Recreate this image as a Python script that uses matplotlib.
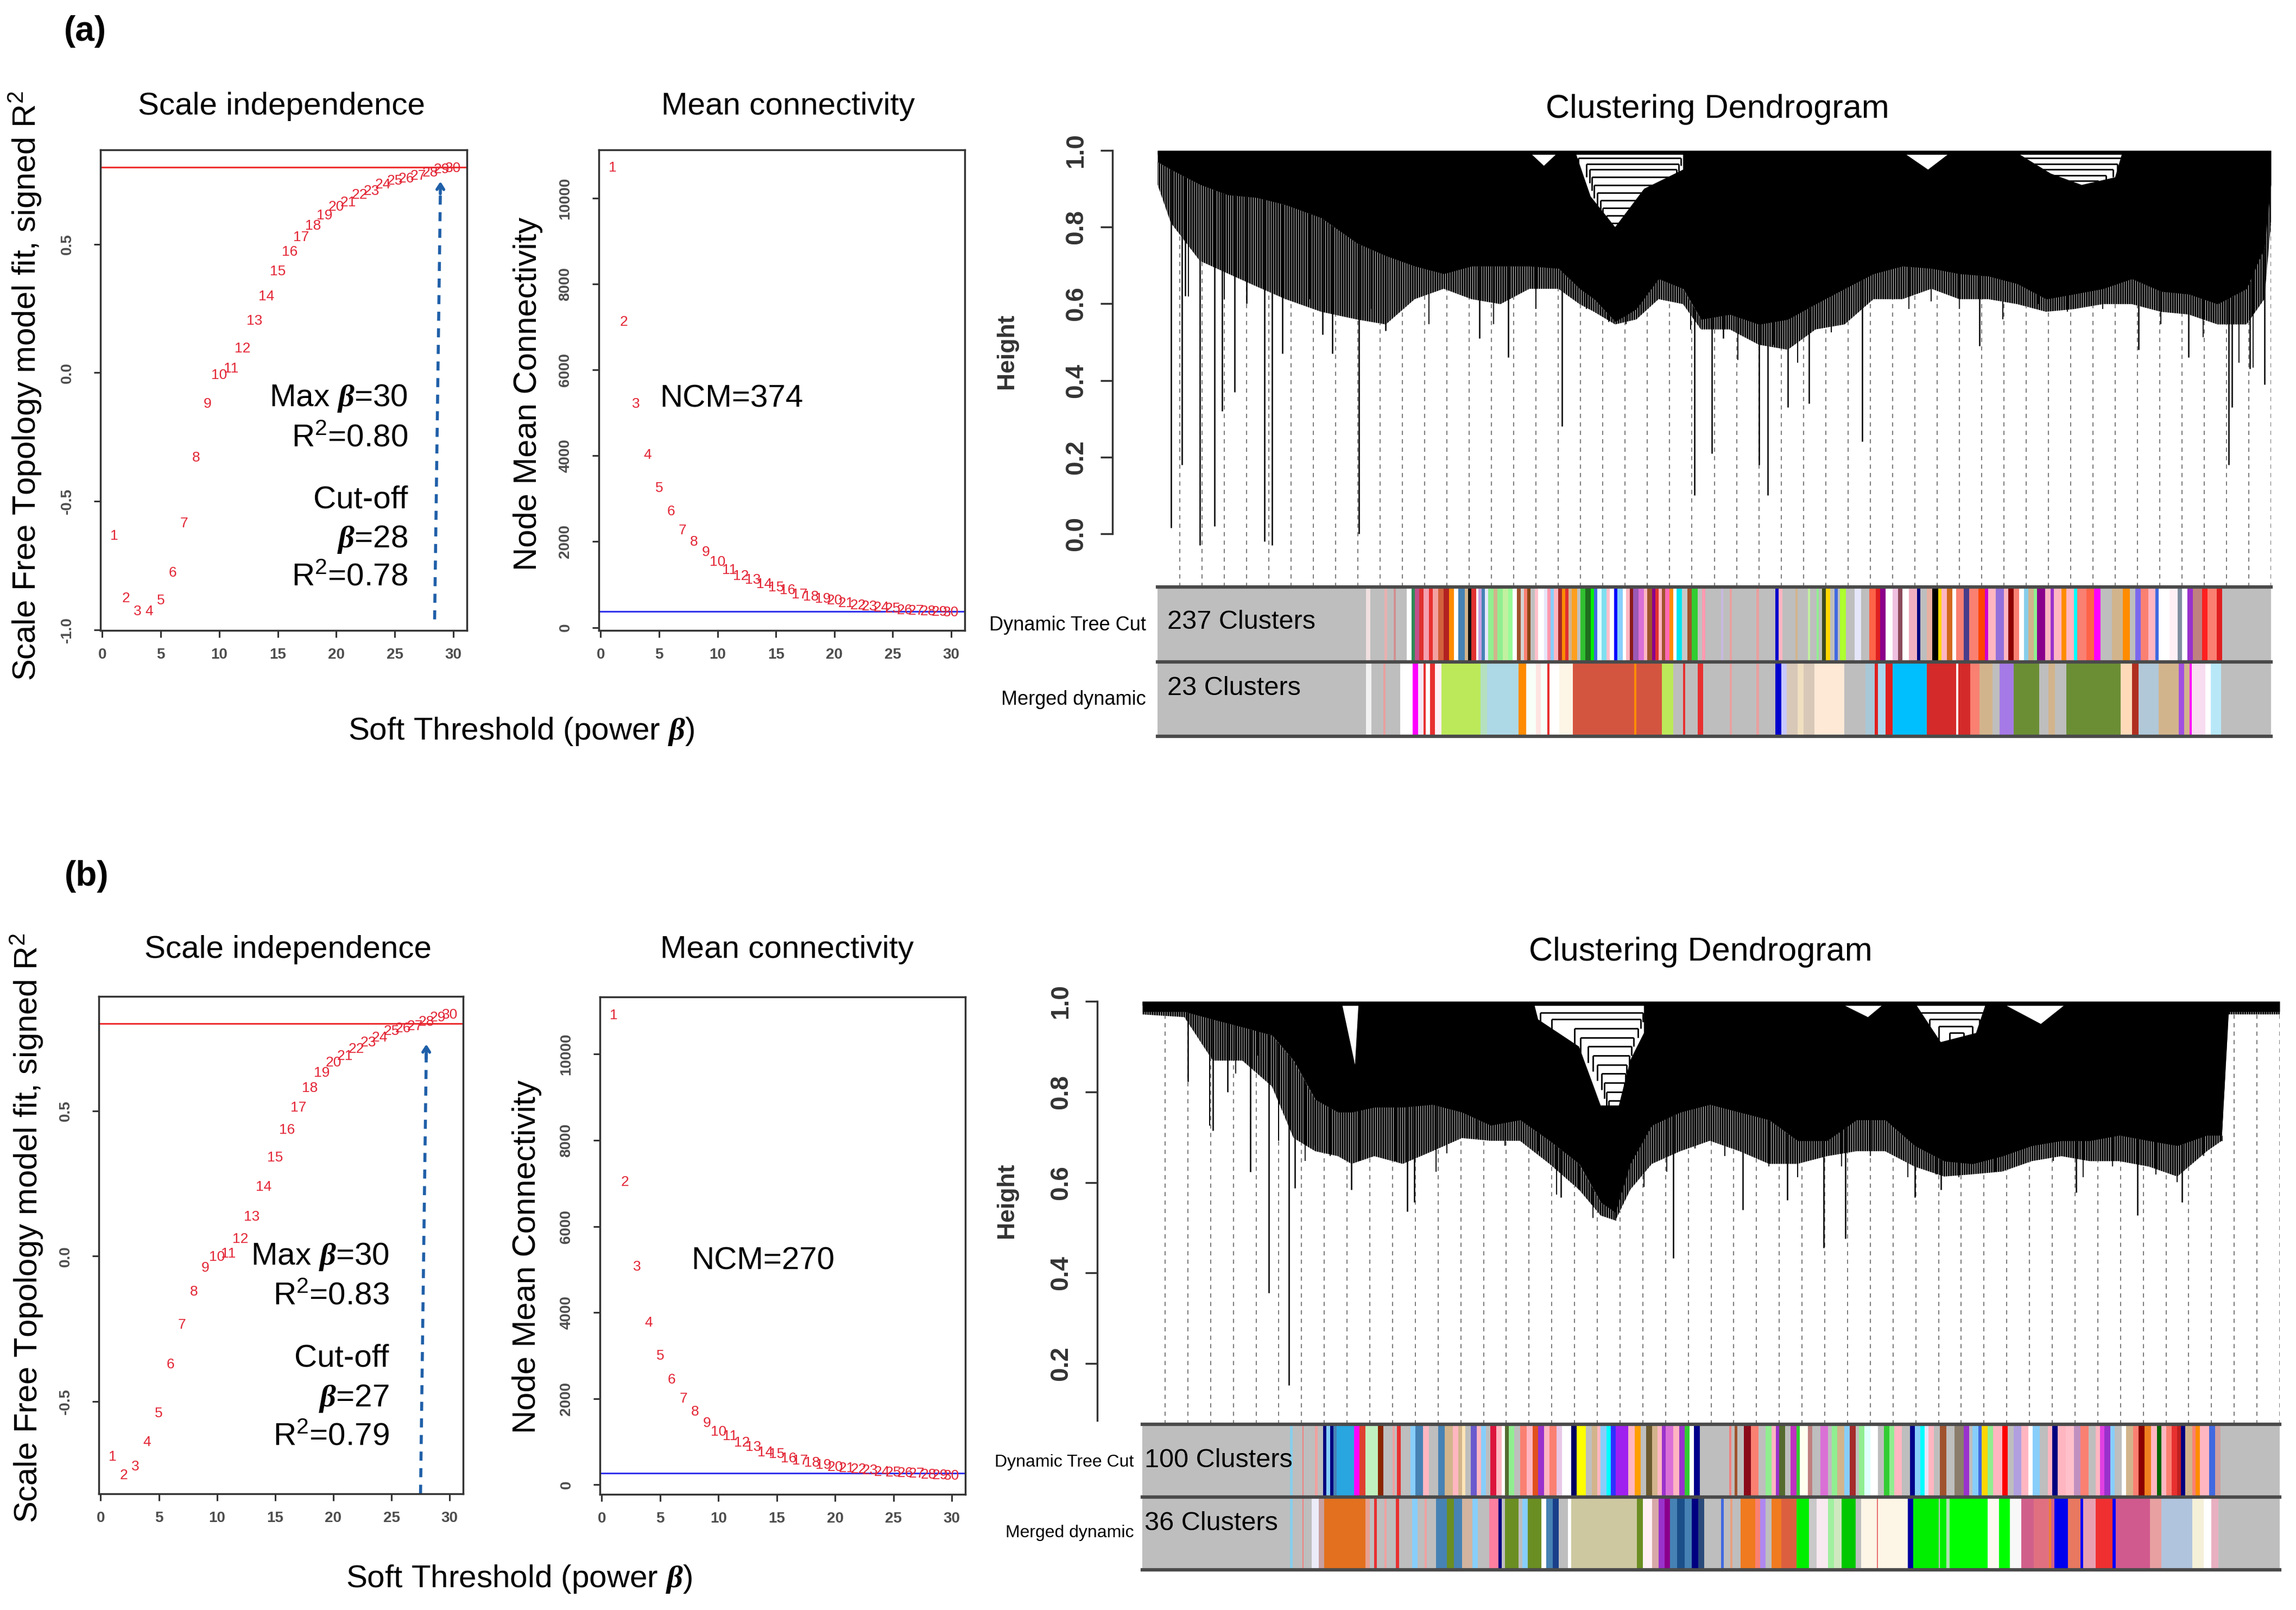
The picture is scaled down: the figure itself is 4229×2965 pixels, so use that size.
import numpy as np
import matplotlib.pyplot as plt
from matplotlib.patches import Polygon
from matplotlib.ticker import FormatStrFormatter

plt.rcParams['font.family'] = ['Liberation Sans', 'DejaVu Sans']
plt.rcParams['axes.unicode_minus'] = False
plt.rcParams['mathtext.fontset'] = 'custom'
plt.rcParams['mathtext.rm'] = 'Liberation Sans'
plt.rcParams['mathtext.it'] = 'Liberation Serif:italic:bold'
plt.rcParams['mathtext.default'] = 'regular'
plt.rcParams['hatch.color'] = 'black'
plt.rcParams['hatch.linewidth'] = 2.4

W, H = 4229, 2965
RED = '#e32636'
BLUE = '#1f5fa8'
GREY = '#bebebe'

powers = list(range(1, 31))

# ---- soft threshold data ----
r2_a = [-0.635, -0.879, -0.930, -0.930, -0.886, -0.778, -0.586, -0.331, -0.121, -0.010,
        0.016, 0.093, 0.201, 0.296, 0.393, 0.469, 0.527, 0.571, 0.612, 0.645,
        0.663, 0.692, 0.707, 0.731, 0.746, 0.754, 0.766, 0.778, 0.790, 0.796]
k_a = [10710, 7116, 5208, 4020, 3239, 2706, 2263, 1996, 1748, 1526,
       1331, 1198, 1109, 1003, 932, 861, 772, 710, 665, 621,
       559, 515, 488, 461, 435, 405, 390, 375, 360, 350]
ncm_a = 374

r2_b = [-0.690, -0.754, -0.724, -0.639, -0.541, -0.373, -0.237, -0.122, -0.041, -0.003,
        0.008, 0.059, 0.136, 0.237, 0.339, 0.434, 0.510, 0.578, 0.629, 0.666,
        0.688, 0.712, 0.734, 0.751, 0.773, 0.782, 0.790, 0.805, 0.820, 0.830]
k_b = [10901, 7032, 5066, 3756, 2989, 2436, 1996, 1689, 1433, 1228,
       1126, 972, 870, 745, 705, 614, 563, 512, 461, 409,
       379, 355, 330, 300, 280, 265, 250, 235, 222, 210]
ncm_b = 270

# ---- dendrogram (a): leaf order in per-mille; solid floor and strand tips ----
treeA_x = [0, 12, 38, 63, 89, 115, 147, 179, 205, 231, 257, 282, 308, 334, 360, 379, 392,
           411, 430, 450, 472, 488, 514, 540, 566, 591, 617, 643, 669, 695, 720, 746, 772,
           798, 823, 849, 875, 901, 926, 952, 978, 994, 1000]
denseA_h = [0.970, 0.950, 0.911, 0.884, 0.877, 0.858, 0.824, 0.758, 0.725, 0.698, 0.678,
            0.698, 0.698, 0.698, 0.692, 0.639, 0.612, 0.553, 0.586, 0.665, 0.639, 0.559,
            0.572, 0.546, 0.559, 0.599, 0.639, 0.678, 0.698, 0.692, 0.678, 0.672, 0.652,
            0.612, 0.625, 0.639, 0.665, 0.632, 0.625, 0.599, 0.639, 0.745, 0.911]
hairA_h = [0.911, 0.811, 0.712, 0.679, 0.645, 0.612, 0.579, 0.559, 0.546, 0.612, 0.639,
           0.612, 0.599, 0.639, 0.639, 0.599, 0.579, 0.546, 0.559, 0.612, 0.599, 0.533,
           0.533, 0.493, 0.480, 0.533, 0.546, 0.612, 0.612, 0.639, 0.612, 0.612, 0.599,
           0.579, 0.586, 0.599, 0.599, 0.579, 0.572, 0.546, 0.546, 0.612, 0.811]
spikeA_x = [12, 22, 25, 38, 51, 58, 69, 80, 96, 103, 112, 148, 157, 181, 205, 289, 315,
            363, 482, 498, 508, 540, 548, 566, 585, 633, 738, 881, 926, 962, 965, 981, 994]
spikeA_h = [0.015, 0.18, 0.62, -0.03, 0.02, 0.32, 0.37, 0.60, -0.02, -0.03, 0.47, 0.52,
            0.47, 0.0, 0.53, 0.51, 0.46, 0.28, 0.10, 0.21, 0.51, 0.18, 0.10, 0.33, 0.34,
            0.24, 0.49, 0.48, 0.46, 0.18, 0.33, 0.43, 0.39]
strandA_x = [28, 60, 115, 137, 170, 192, 221, 244, 260, 302, 340, 385, 405, 421, 479, 521,
             553, 575, 605, 617, 675, 695, 720, 759, 791, 817, 849, 901, 939, 971, 984]
strandA_h = [0.619, 0.612, 0.612, 0.612, 0.626, 0.586, 0.612, 0.546, 0.645, 0.546, 0.586,
             0.586, 0.553, 0.546, 0.533, 0.453, 0.493, 0.446, 0.526, 0.546, 0.586, 0.606,
             0.586, 0.559, 0.599, 0.579, 0.586, 0.546, 0.513, 0.446, 0.433]
gapA_x = [[336, 358, 347], [376, 472, 472, 437, 411, 389], [672, 710, 692],
          [774, 866, 860, 830, 802]]
gapA_h = [[0.99, 0.99, 0.96], [0.99, 0.99, 0.95, 0.90, 0.80, 0.88], [0.99, 0.99, 0.95],
          [0.99, 0.99, 0.93, 0.91, 0.94]]
branchA_x0 = [378, 385, 388, 390, 392, 395, 398, 400, 403, 405, 776, 784, 792, 800, 808]
branchA_x1 = [470, 468, 466, 462, 458, 455, 450, 445, 440, 432, 866, 862, 858, 852, 845]
branchA_h = [0.98, 0.965, 0.95, 0.93, 0.91, 0.89, 0.87, 0.85, 0.83, 0.81,
             0.98, 0.965, 0.95, 0.935, 0.92]

# ---- dendrogram (b) ----
treeB_x = [0, 37, 62, 88, 114, 133, 152, 172, 184, 204, 229, 255, 281, 306, 332, 358,
           384, 403, 416, 429, 448, 473, 499, 525, 551, 576, 602, 628, 653, 679, 705,
           730, 756, 782, 808, 833, 859, 885, 910, 936, 949, 955, 1000]
denseB_h = [0.977, 0.977, 0.960, 0.943, 0.925, 0.869, 0.783, 0.755, 0.755, 0.766, 0.766,
            0.772, 0.755, 0.726, 0.738, 0.692, 0.641, 0.556, 0.533, 0.641, 0.726, 0.755,
            0.772, 0.755, 0.738, 0.692, 0.692, 0.738, 0.738, 0.681, 0.647, 0.641, 0.658,
            0.681, 0.692, 0.692, 0.704, 0.692, 0.681, 0.704, 0.704, 0.977, 0.977]
hairB_h = [0.971, 0.965, 0.869, 0.869, 0.812, 0.698, 0.669, 0.658, 0.641, 0.658, 0.641,
           0.669, 0.698, 0.692, 0.692, 0.641, 0.584, 0.527, 0.516, 0.584, 0.641, 0.669,
           0.692, 0.669, 0.641, 0.641, 0.658, 0.669, 0.669, 0.635, 0.613, 0.618, 0.624,
           0.647, 0.658, 0.647, 0.647, 0.635, 0.613, 0.669, 0.692, 0.971, 0.971]
spikeB_x = [40, 62, 75, 95, 111, 129, 134, 184, 233, 239, 368, 467, 528, 567, 599, 618,
            679, 702, 821, 875, 914, 949]
spikeB_h = [0.823, 0.715, 0.80, 0.624, 0.356, 0.152, 0.587, 0.584, 0.536, 0.556, 0.567,
            0.433, 0.539, 0.561, 0.456, 0.476, 0.567, 0.584, 0.578, 0.527, 0.556, 0.692]
strandB_x = [59, 82, 101, 120, 143, 152, 165, 191, 210, 223, 258, 268, 294, 319, 348, 364,
             384, 396, 416, 441, 461, 486, 512, 551, 576, 615, 640, 673, 698, 718, 750,
             769, 801, 827, 853, 891, 910, 933]
strandB_h = [0.726, 0.840, 0.880, 0.692, 0.647, 0.681, 0.658, 0.647, 0.669, 0.647, 0.624,
             0.664, 0.698, 0.681, 0.669, 0.573, 0.584, 0.522, 0.516, 0.590, 0.624, 0.675,
             0.658, 0.635, 0.612, 0.635, 0.658, 0.612, 0.618, 0.612, 0.624, 0.641, 0.647,
             0.612, 0.635, 0.618, 0.601, 0.658]
gapB_x = [[176, 190, 187], [345, 441, 441, 429, 419, 403, 384, 348], [618, 650, 638],
          [681, 741, 733, 702], [760, 810, 790]]
gapB_h = [[0.99, 0.99, 0.86], [0.99, 0.99, 0.93, 0.87, 0.77, 0.77, 0.90, 0.96],
          [0.99, 0.99, 0.965], [0.99, 0.99, 0.93, 0.91], [0.99, 0.99, 0.95]]
branchB_x0 = [350, 360, 380, 385, 392, 396, 400, 404, 406, 408, 410, 684, 692, 700, 710]
branchB_x1 = [440, 438, 436, 432, 430, 428, 426, 425, 424, 424, 422, 740, 736, 730, 722]
branchB_h = [0.975, 0.96, 0.94, 0.92, 0.90, 0.88, 0.86, 0.84, 0.82, 0.80, 0.78,
             0.975, 0.96, 0.945, 0.93]

# ---- colour bands: (start per-mille, colour) ----
cutA = [(0, GREY), (187, '#f0e0e0'), (191, GREY), (204, '#e8b0b0'), (206, GREY),
        (212, '#d09090'), (214, GREY), (224, '#ffffff'), (228, '#2e8b57'), (231, '#c0508a'),
        (235, '#e03030'), (239, '#f4a0b0'), (244, '#e83030'), (247, '#f4a0a0'),
        (252, '#d2603c'), (257, '#b22222'), (262, '#ff8c00'), (266, '#ffffff'),
        (270, '#4682b4'), (276, '#d2b48c'), (279, '#111111'), (282, '#e03030'),
        (286, '#ffffff'), (288, '#c8a0e0'), (291, '#4682b4'), (294, '#e6e6fa'),
        (297, '#90ee90'), (302, '#d2b48c'), (305, '#90ee90'), (310, '#c1f0a0'),
        (315, '#98fb98'), (319, '#ffffff'), (323, '#a0522d'), (326, '#d3d3d3'),
        (329, '#fa8072'), (332, '#8b4513'), (335, '#c0c0c0'), (339, '#ffc0cb'),
        (342, '#ffffff'), (347, '#e6e6fa'), (350, '#ff9ab0'), (353, '#87cefa'),
        (356, '#ffb6c1'), (360, '#a52a2a'), (363, '#ff8c00'), (366, '#e03030'),
        (369, '#d2b48c'), (372, '#ff9f20'), (377, '#c0c0c0'), (380, '#30c030'),
        (384, '#1e6e1e'), (389, '#00ee00'), (392, '#4169e1'), (395, '#e0ffff'),
        (399, '#7fdfef'), (403, '#ffc0cb'), (406, '#ffffff'), (410, '#0000ff'),
        (413, '#87cefa'), (418, '#ffffff'), (421, '#ffb6c1'), (424, '#8b1a1a'),
        (427, '#9b59b6'), (432, '#da70d6'), (437, '#ffb6c1'), (440, '#a0522d'),
        (444, '#8b008b'), (447, '#e03030'), (450, '#ffb6c1'), (453, '#a0522d'),
        (456, '#ff69b4'), (460, '#ff8c00'), (463, '#ffffff'), (466, '#00e5ee'),
        (471, '#c8c8c8'), (476, '#a0522d'), (480, '#32cd32'), (485, '#c0c0c0'),
        (489, '#ff9ab0'), (492, GREY), (506, '#c8b8e0'), (508, GREY), (514, '#e8a0a0'),
        (516, GREY), (538, '#e8a0a0'), (540, GREY), (555, '#0000cd'), (558, '#ffb6c1'),
        (561, GREY), (573, '#d2b48c'), (575, GREY), (584, '#c0f0a0'), (586, GREY),
        (592, '#90ee90'), (594, GREY), (597, '#3d4a1e'), (600, '#ffd700'), (604, GREY),
        (608, '#4169e1'), (611, GREY), (613, '#adff2f'), (618, GREY), (626, '#e6e6fa'),
        (632, GREY), (639, '#ff6347'), (645, '#e02020'), (649, '#8b008b'), (654, '#ffffff'),
        (660, '#f0c0e0'), (665, '#8b4a5a'), (669, '#ffffff'), (675, '#f0b0c0'),
        (682, '#000080'), (685, GREY), (691, '#e8b0a0'), (696, '#000000'), (701, '#ffd700'),
        (704, '#ffb6c1'), (709, '#d2691e'), (714, '#ffffff'), (717, '#fa8072'),
        (724, '#483d8b'), (729, '#fa8072'), (737, '#ff4500'), (743, '#d000d0'),
        (746, '#ffb6c1'), (753, '#9370db'), (760, '#ffb6c1'), (764, '#8b0000'),
        (769, '#fa8072'), (774, '#ffffff'), (778, '#87ceeb'), (782, '#d2b48c'),
        (787, '#90ee90'), (790, '#8b008b'), (797, '#ffb6c1'), (802, '#9932cc'),
        (805, '#ffb6c1'), (812, '#ff8c00'), (816, '#ffb6c1'), (823, '#00ffff'),
        (826, '#fa8072'), (834, '#ff6347'), (841, '#ff00ff'), (847, GREY), (857, '#d2b48c'),
        (867, '#ff8c00'), (873, GREY), (878, '#7b68ee'), (883, '#fa8072'), (890, '#ffb6c1'),
        (896, '#4169e1'), (899, '#ffffff'), (909, '#fff0f5'), (916, '#8090a0'),
        (920, '#ffffff'), (925, '#9932cc'), (930, '#c08080'), (938, '#ff2020'),
        (943, '#fa8072'), (951, '#e02020'), (956, GREY)]

mergeA = [(0, GREY), (187, '#f2f2f2'), (192, GREY), (203, '#e8a0a0'), (205, GREY),
          (218, '#ffffff'), (229, '#ff00ff'), (234, '#f5e6f5'), (239, '#e83030'),
          (241, '#ffffff'), (245, '#e83030'), (249, '#fff0f5'), (255, '#bce95a'),
          (290, '#b5e0c0'), (296, '#add8e6'), (324, '#ff8c00'), (331, '#f8fff8'),
          (340, '#ffe4e1'), (344, '#f8fff8'), (350, '#e83030'), (352, '#ffffff'),
          (361, '#fdf5e6'), (373, '#d4553f'), (428, '#ff8c00'), (430, '#d4553f'),
          (453, '#bce95a'), (463, GREY), (472, '#e83030'), (474, GREY), (485, '#e83030'),
          (490, GREY), (514, '#e8a0a0'), (516, GREY), (538, '#e8a0a0'), (540, GREY),
          (555, '#0000cd'), (560, '#c8c8ff'), (565, '#d8c8b8'), (575, '#f0e0c0'),
          (580, '#d8c8b8'), (590, '#fde9d6'), (617, GREY), (636, '#a8c8d8'),
          (644, '#e02020'), (647, '#a8d8f0'), (654, '#e02020'), (660, '#00bfff'),
          (691, '#d42a2a'), (717, '#ffffff'), (719, '#d42a2a'), (730, '#fa8072'),
          (738, '#d2b48c'), (750, GREY), (756, '#a57ae6'), (769, '#6b8e35'), (792, GREY),
          (800, '#d2b48c'), (806, GREY), (816, '#6b8e35'), (865, '#ffdab9'),
          (875, '#b03020'), (881, '#b0c8d8'), (899, '#d2b48c'), (917, '#a050e0'),
          (922, '#d2b48c'), (927, '#ff00ff'), (929, '#f8dcf0'), (941, '#ffffff'),
          (946, '#b8e8f8'), (955, GREY)]

cutB = [(0, GREY), (130, '#87ceeb'), (132, GREY), (141, '#f08080'), (142, GREY),
        (152, '#f0a0a0'), (154, GREY), (159, '#000080'), (162, '#87cefa'), (165, '#000080'),
        (168, '#4682b4'), (171, '#29a5e0'), (186, '#ff00ff'), (191, '#e04030'),
        (196, '#c0f0c0'), (207, '#8b2500'), (212, GREY), (220, '#f0a0a0'), (222, GREY),
        (224, '#e83030'), (227, GREY), (236, '#87cefa'), (240, '#4682b4'), (247, '#ffb6c1'),
        (252, GREY), (260, '#4682b4'), (266, '#d2b48c'), (273, '#ffb6c1'), (278, '#d2b48c'),
        (281, '#ffe4b5'), (284, GREY), (289, '#6a5acd'), (294, '#ffb6c1'), (298, '#87cefa'),
        (302, GREY), (306, '#dc143c'), (311, '#ffb6c1'), (316, '#ffffff'), (319, '#556b2f'),
        (322, '#90ee90'), (327, GREY), (332, '#fa8072'), (338, '#ffb6c1'), (343, '#e2501e'),
        (348, '#9932cc'), (353, '#ffb6c1'), (358, '#fa8072'), (364, '#e6c8e6'),
        (369, '#ffffff'), (377, '#000060'), (382, '#ffff00'), (390, GREY), (395, '#d2b48c'),
        (400, '#ffb6c1'), (403, '#87cefa'), (408, '#00ffff'), (412, '#3030ff'),
        (416, '#a020f0'), (427, '#ffb6c1'), (433, '#ff9f00'), (438, GREY), (443, '#6b5a2f'),
        (448, '#d2b48c'), (453, '#ffb6c1'), (457, '#9932cc'), (460, '#da70d6'),
        (467, '#ffb6c1'), (472, '#9932cc'), (477, '#32cd32'), (481, '#ffffff'),
        (485, '#00008b'), (490, GREY), (516, '#f08080'), (518, GREY), (521, '#a0522d'),
        (523, GREY), (529, '#8b0a1a'), (535, '#fa8072'), (542, GREY), (548, '#90ee90'),
        (553, '#ffb6c1'), (557, '#9932cc'), (560, '#556b2f'), (565, GREY), (570, '#c030c0'),
        (575, '#32cd32'), (578, '#fffff0'), (585, '#c08080'), (589, GREY), (596, '#da70d6'),
        (603, GREY), (606, '#90ee90'), (611, '#d2b48c'), (617, '#87cefa'), (622, '#a52a2a'),
        (627, GREY), (630, '#90ee90'), (635, '#e0ffff'), (640, '#ffffff'), (647, GREY),
        (652, '#32cd32'), (657, '#90ee90'), (661, '#ffb6c1'), (668, GREY), (675, '#00008b'),
        (679, '#87cefa'), (684, '#00ffff'), (688, '#e6e6fa'), (691, '#ffb6c1'), (696, GREY),
        (701, '#a0522d'), (707, GREY), (714, '#8b7d6b'), (722, '#9932cc'), (727, GREY),
        (730, '#87cefa'), (735, '#4169e1'), (738, '#ffd700'), (743, '#90ee90'),
        (748, '#ffb6c1'), (756, '#ff0000'), (761, GREY), (766, '#b0a0e0'), (773, '#ffb6c1'),
        (779, '#ffffff'), (783, '#87cefa'), (789, GREY), (796, '#ffb6c1'), (800, '#000080'),
        (805, '#ffb6c1'), (812, '#ffc0cb'), (819, '#c090c0'), (825, '#fa8072'), (832, GREY),
        (838, '#ffb6c1'), (842, '#e040e0'), (846, '#9932cc'), (851, '#87cefa'), (855, GREY),
        (861, '#ffffff'), (865, '#d2b48c'), (871, '#fa8072'), (876, '#8b0000'),
        (881, '#f0801e'), (887, '#ffb6c1'), (892, '#006400'), (896, '#ffb6c1'),
        (900, '#fa8072'), (905, '#e83030'), (910, '#c02020'), (913, '#000080'),
        (917, '#d2b48c'), (923, '#fa8072'), (926, '#ff8c00'), (930, '#ffb6c1'),
        (938, '#4169e1'), (943, '#d0a0a0'), (948, GREY)]

mergeB = [(0, GREY), (130, '#87ceeb'), (132, GREY), (141, '#f08080'), (142, GREY),
          (149, '#ecebf8'), (155, '#c8a0a0'), (160, '#e2701e'), (196, '#e8a090'),
          (200, GREY), (204, '#e83030'), (206, GREY), (213, '#f0a0a0'), (215, GREY),
          (223, '#e83030'), (226, GREY), (237, '#87cefa'), (242, GREY), (248, '#f0a0a0'),
          (250, GREY), (258, '#4682b4'), (268, '#6b8e23'), (274, '#4682b4'),
          (281, '#d2b4a0'), (290, '#87cefa'), (295, GREY), (305, '#ff7fa0'),
          (313, '#000080'), (316, GREY), (319, '#6b8e23'), (331, GREY), (334, '#87cefa'),
          (339, '#6b8e23'), (351, '#ffffff'), (355, '#4682b4'), (361, '#1a3f8a'),
          (366, GREY), (374, '#ffffff'), (377, '#cdc8a0'), (435, '#6b8e23'),
          (440, '#fff0f5'), (448, '#d8a8a8'), (454, '#9932cc'), (459, '#8b008b'),
          (464, '#4682b4'), (470, '#1a4f8a'), (477, '#4682b4'), (483, '#000080'),
          (489, '#2a4a7a'), (494, GREY), (509, '#4169e1'), (511, GREY), (517, '#e8a080'),
          (519, GREY), (526, '#f07a20'), (539, '#fa8072'), (543, '#b088f0'), (548, GREY),
          (553, '#f07a20'), (562, '#dc6040'), (575, '#00ee00'), (586, '#c8c8c8'),
          (593, '#f8e8f0'), (603, '#a0f0a0'), (608, '#d0e8c0'), (615, '#00c800'),
          (627, GREY), (632, '#fdf5e6'), (646, '#e87070'), (647, '#fdf5e6'),
          (673, '#0000a0'), (678, '#00ee00'), (700, '#c0c0c0'), (701, '#00ee00'),
          (707, '#b0e0b0'), (710, '#00ff00'), (743, '#fdf8f0'), (753, '#00ff00'),
          (763, '#f8f8f8'), (773, '#d0608a'), (784, '#e07080'), (797, '#f08030'),
          (799, '#d0608a'), (802, '#0000ee'), (814, '#e87860'), (825, '#0000ff'),
          (827, '#e8a0b0'), (838, '#f03030'), (853, '#0000ff'), (856, '#d05a8e'),
          (886, '#e8a0a0'), (896, '#b0c4de'), (923, '#f5f0d8'), (933, '#ffffff'),
          (940, '#e8b0c0'), (946, GREY)]


def px_axes(fig, x0, y0, x1, y1):
    return fig.add_axes([x0 / W, 1 - y1 / H, (x1 - x0) / W, (y1 - y0) / H])


def ftext(fig, x, y, s, **kw):
    fig.text(x / W, 1 - y / H, s, **kw)


def frame(ax, xticks, yticks, yfmt):
    for s in ax.spines.values():
        s.set_color('#333333')
        s.set_linewidth(2.5)
    ax.set_xticks(xticks)
    ax.set_yticks(yticks)
    ax.yaxis.set_major_formatter(FormatStrFormatter(yfmt))
    ax.tick_params(direction='out', length=9, width=2.2, color='#333333',
                   labelsize=20, labelcolor='#4d4d4d')
    ax.tick_params(axis='x', pad=14)
    ax.tick_params(axis='y', pad=26, labelrotation=90)
    for lab in ax.get_xticklabels() + ax.get_yticklabels():
        lab.set_fontweight('bold')
    for lab in ax.get_yticklabels():
        lab.set_va('center')


def scale_panel(fig, box, r2, ylim, yticks, arrow, note_x, notes):
    ax = px_axes(fig, *box)
    ax.set_xlim(-0.16, 31.16)
    ax.set_ylim(*ylim)
    ax.axhline(0.8, color='#ee3030', lw=2.2)
    for p, v in zip(powers, r2):
        ax.text(p, v, str(p), color=RED, fontsize=19, ha='center', va='center')
    (xb, yb), (xt, yt) = arrow
    ax.plot([xb, xt], [yb, yt - 0.02], color=BLUE, lw=4, ls=(0, (3, 2.5)))
    ax.annotate('', xy=(xt, yt), xytext=(xt - (xt - xb) * 0.03, yt - 0.06),
                arrowprops=dict(arrowstyle='->,head_length=0.7,head_width=0.45',
                                color=BLUE, lw=4))
    for y, s in notes:
        ax.text(note_x, y, s, fontsize=42, ha='right', va='center')
    frame(ax, range(0, 31, 5), yticks, '%.1f')
    return ax


def mean_panel(fig, box, k, ylim, ncm, note_xy):
    ax = px_axes(fig, *box)
    ax.set_xlim(-0.16, 31.16)
    ax.set_ylim(*ylim)
    ax.axhline(ncm, color='#3333ee', lw=2.2)
    for p, v in zip(powers, k):
        ax.text(p, v, str(p), color=RED, fontsize=19, ha='center', va='center')
    ax.text(note_xy[0], note_xy[1], 'NCM=%d' % ncm, fontsize=42, ha='left', va='center')
    frame(ax, range(0, 31, 5), range(0, 10001, 2000), '%d')
    return ax


def dendro_panel(fig, box, ylim, yticks, lo, tree, spikes, strands, gaps, branches):
    tx, dense, hair = tree
    ax = px_axes(fig, *box)
    ax.set_xlim(0, 1000)
    ax.set_ylim(*ylim)
    guides = np.arange(1, 51) * 20
    tops = np.interp(guides, tx, hair)
    ax.vlines(guides, ylim[0], tops, colors='#7a7a7a', linestyles=(0, (4, 4)), lw=1.4)
    ax.fill_between(tx, hair, dense, facecolor='none', edgecolor='black', hatch='||||', lw=0)
    ax.fill_between(tx, dense, 1.0, color='black', lw=0)
    ax.hlines(0.995, 0, 1000, colors='black', lw=5)
    for px, ph in zip(*gaps):
        ax.add_patch(Polygon(list(zip(px, ph)), closed=True, facecolor='white',
                             edgecolor='none'))
    bx0, bx1, bh = branches
    bh = np.array(bh)
    ax.hlines(bh, bx0, bx1, colors='black', lw=2)
    ax.vlines(bx0, bh - 0.035, bh, colors='black', lw=2)
    ax.vlines(bx1, bh - 0.02, bh, colors='black', lw=2)
    for (lx, lh), lw in ((spikes, 1.8), (strands, 1.4)):
        ax.vlines(lx, lh, np.interp(lx, tx, dense), colors='black', lw=lw)
    for side in ('top', 'right', 'bottom'):
        ax.spines[side].set_visible(False)
    ax.spines['left'].set_position(('outward', 60))
    ax.spines['left'].set_bounds(lo, 1.0)
    ax.spines['left'].set_linewidth(2.5)
    ax.spines['left'].set_color('#333333')
    ax.set_xticks([])
    ax.set_yticks(yticks)
    ax.yaxis.set_major_formatter(FormatStrFormatter('%.1f'))
    ax.tick_params(axis='y', direction='out', length=16, width=2.5, color='#333333',
                   labelsize=33, labelcolor='#333333', pad=16, labelrotation=90)
    for lab in ax.get_yticklabels():
        lab.set_va('center')
        lab.set_fontweight('bold')
    return ax


def band_panel(fig, box, cut, merge):
    ax = px_axes(fig, *box)
    for row, band in enumerate([merge, cut]):
        starts = [s for s, _ in band]
        cols = [c for _, c in band]
        ends = starts[1:] + [1000]
        ax.broken_barh([(s, e - s) for s, e in zip(starts, ends)], (row, 1),
                       facecolors=cols, edgecolor='none', lw=0)
    ax.set_xlim(0, 1000)
    ax.set_ylim(0, 2)
    ax.axis('off')
    for y in (0, 1, 2):
        ax.axhline(y, color='#4a4a4a', lw=4.5, clip_on=False)
    return ax


fig = plt.figure(figsize=(W / 100, H / 100), dpi=100)
fig.patch.set_facecolor('white')

beta = r'$\mathit{\beta}$'

# ---------------- panel (a) ----------------
ftext(fig, 157, 58, '(a)', fontsize=46, fontweight='bold', ha='center', va='center')
scale_panel(fig, (185, 276, 860, 1161), r2_a, (-1.003, 0.867), [-1.0, -0.5, 0.0, 0.5],
            ((28.4, -0.96), (28.9, 0.75)), 26.1,
            [(-0.10, 'Max ' + beta + '=30'), (-0.257, 'R$^2$=0.80'),
             (-0.494, 'Cut-off'), (-0.65, beta + '=28'), (-0.797, 'R$^2$=0.78')])
ftext(fig, 519, 196, 'Scale independence', fontsize=42, ha='center', va='center')
ftext(fig, 46, 711, 'Scale Free Topology model fit, signed R$^2$', fontsize=43,
      rotation=90, ha='center', va='center')
mean_panel(fig, (1103, 276, 1777, 1161), k_a, (-69, 11125), ncm_a, (5.04, 5324))
ftext(fig, 1452, 196, 'Mean connectivity', fontsize=42, ha='center', va='center')
ftext(fig, 972, 725, 'Node Mean Connectivity', fontsize=43, rotation=90,
      ha='center', va='center')
ftext(fig, 960, 1347, 'Soft Threshold (power ' + beta + ')', fontsize=42,
      ha='center', va='center')

dendro_panel(fig, (2132, 273.5, 4183, 1081), (-0.139, 1.005), np.arange(0, 1.01, 0.2), 0.0,
             (treeA_x, denseA_h, hairA_h), (spikeA_x, spikeA_h), (strandA_x, strandA_h),
             (gapA_x, gapA_h), (branchA_x0, branchA_x1, branchA_h))
ftext(fig, 3163, 202, 'Clustering Dendrogram', fontsize=44, ha='center', va='center')
ftext(fig, 1855, 647, 'Height', fontsize=32, fontweight='bold', color='#333333',
      rotation=90, ha='center', va='center')
band_panel(fig, (2132, 1081, 4183, 1356), cutA, mergeA)
ftext(fig, 2111, 1152, 'Dynamic Tree Cut', fontsize=26, ha='right', va='center')
ftext(fig, 2111, 1288, 'Merged dynamic', fontsize=26, ha='right', va='center')
ftext(fig, 2150, 1145, '237 Clusters', fontsize=35, ha='left', va='center')
ftext(fig, 2150, 1268, '23 Clusters', fontsize=35, ha='left', va='center')

# ---------------- panel (b) ----------------
ftext(fig, 160, 1614, '(b)', fontsize=46, fontweight='bold', ha='center', va='center')
scale_panel(fig, (182, 1835, 853, 2751), r2_b, (-0.817, 0.893), [-0.5, 0.0, 0.5],
            ((27.5, -0.817), (28.0, 0.734)), 24.8,
            [(-0.003, 'Max ' + beta + '=30'), (-0.139, 'R$^2$=0.83'),
             (-0.351, 'Cut-off'), (-0.49, beta + '=27'), (-0.622, 'R$^2$=0.79')])
ftext(fig, 531, 1749, 'Scale independence', fontsize=42, ha='center', va='center')
ftext(fig, 49, 2262, 'Scale Free Topology model fit, signed R$^2$', fontsize=43,
      rotation=90, ha='center', va='center')
mean_panel(fig, (1105, 1836, 1778, 2752), k_b, (-223, 11328), ncm_b, (7.66, 5189))
ftext(fig, 1450, 1749, 'Mean connectivity', fontsize=42, ha='center', va='center')
ftext(fig, 970, 2314, 'Node Mean Connectivity', fontsize=43, rotation=90,
      ha='center', va='center')
ftext(fig, 956, 2908, 'Soft Threshold (power ' + beta + ')', fontsize=42,
      ha='center', va='center')

dendro_panel(fig, (2104, 1839.8, 4199, 2623), (0.066, 1.005), np.arange(0.2, 1.01, 0.2), 0.074,
             (treeB_x, denseB_h, hairB_h), (spikeB_x, spikeB_h), (strandB_x, strandB_h),
             (gapB_x, gapB_h), (branchB_x0, branchB_x1, branchB_h))
ftext(fig, 3132, 1753, 'Clustering Dendrogram', fontsize=44, ha='center', va='center')
ftext(fig, 1855, 2211, 'Height', fontsize=32, fontweight='bold', color='#333333',
      rotation=90, ha='center', va='center')
band_panel(fig, (2104, 2623, 4199, 2891), cutB, mergeB)
ftext(fig, 2088, 2693, 'Dynamic Tree Cut', fontsize=23, ha='right', va='center')
ftext(fig, 2088, 2823, 'Merged dynamic', fontsize=23, ha='right', va='center')
ftext(fig, 2108, 2689, '100 Clusters', fontsize=35, ha='left', va='center')
ftext(fig, 2108, 2805, '36 Clusters', fontsize=35, ha='left', va='center')

fig.savefig('out.png', dpi=100, facecolor='white')
